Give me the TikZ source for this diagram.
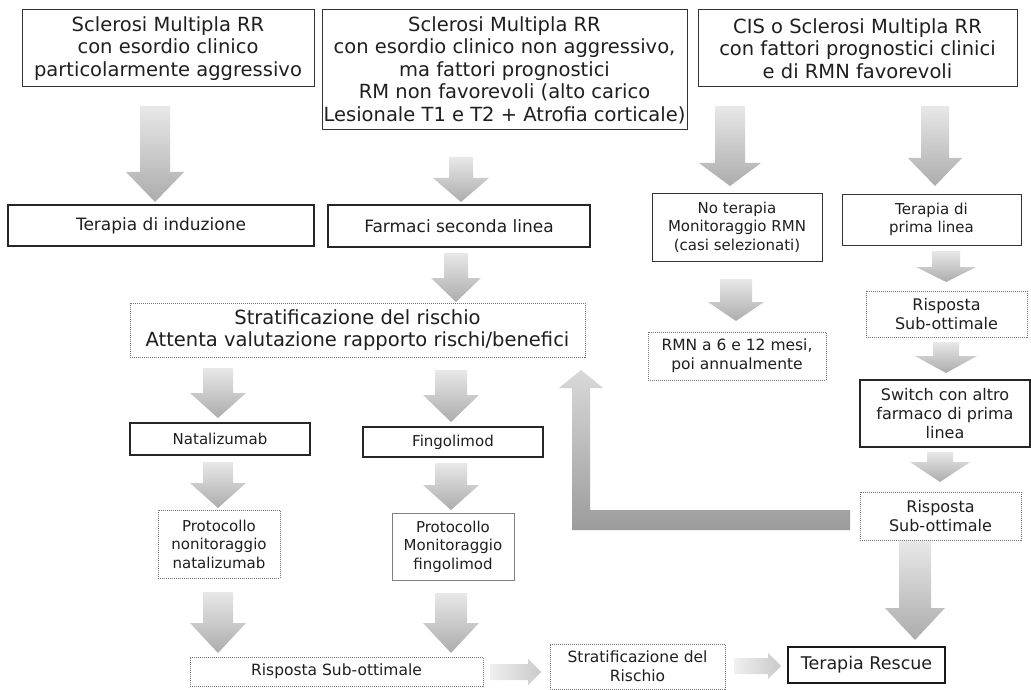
\documentclass[tikz,border=0pt]{standalone}
\usepackage{fontspec}
\setmainfont{DejaVu Sans}
\tikzset{
  bx/.style={rectangle, align=center, inner sep=0pt, text=black!88, font=\fontsize{15}{18.5}\selectfont},
  bigf/.style={font=\fontsize{19.5}{22.5}\selectfont},
  midf/.style={font=\fontsize{17}{20}\selectfont},
  rf/.style={font=\fontsize{16}{19}\selectfont},
  solidb/.style={draw=black!80, line width=1pt},
  thickb/.style={draw=black!85, line width=1.6pt},
  dotb/.style={draw=black!55, line width=0.8pt, dash pattern=on 1pt off 1pt},
  thinb/.style={draw=black!50, line width=0.8pt},
  arrfill/.style={top color=gray!18, bottom color=gray!65, draw=none},
  harrfill/.style={left color=gray!12, right color=gray!42, draw=none},
  larrfill/.style={top color=gray!30, bottom color=gray!78, draw=none},
}
\newcommand\darr[6]{%
  \shade[arrfill] (#1-#5,#2) -- (#1+#5,#2) -- (#1+#5,#3) -- (#1+#6,#3) -- (#1,#4) -- (#1-#6,#3) -- (#1-#5,#3) -- cycle;}
\newcommand\rarr[6]{%
  \shade[harrfill] (#1,#4-#5) -- (#2,#4-#5) -- (#2,#4-#6) -- (#3,#4) -- (#2,#4+#6) -- (#2,#4+#5) -- (#1,#4+#5) -- cycle;}
\begin{document}
\begin{tikzpicture}[x=1pt,y=-1pt]
\useasboundingbox[fill=white] (0,0) rectangle (1031,690);

% top row
\node[bx,bigf,solidb,minimum width=292,minimum height=77] (b1) at (168,48.5)
  {Sclerosi Multipla RR\\con esordio clinico\\particolarmente aggressivo};
\node[bx,bigf,solidb,minimum width=365,minimum height=120] (b2) at (504.5,70)
  {Sclerosi Multipla RR\\con esordio clinico non aggressivo,\\ma fattori prognostici\\RM non favorevoli (alto carico\\Lesionale T1 e T2 + Atrofia corticale)};
\node[bx,bigf,solidb,minimum width=319,minimum height=77] (b3) at (857.5,48.5)
  {CIS o Sclerosi Multipla RR\\con fattori prognostici clinici\\e di RMN favorevoli};

% second row
\node[bx,midf,thickb,minimum width=306,minimum height=41] (ind) at (161,225.5) {Terapia di induzione};
\node[bx,midf,thickb,minimum width=262,minimum height=42] (farm) at (459,226) {Farmaci seconda linea};
\node[bx,solidb,minimum width=170,minimum height=68] (not) at (737,227) {No terapia\\Monitoraggio RMN\\(casi selezionati)};
\node[bx,solidb,minimum width=179,minimum height=51] (prima) at (931.5,219.5) {Terapia di\\prima linea};

% middle
\node[bx,bigf,dotb,minimum width=455,minimum height=54] (strat) at (357.5,330)
  {Stratificazione del rischio\\Attenta valutazione rapporto rischi/benefici};
\node[bx,font=\fontsize{15.5}{19}\selectfont,dotb,minimum width=178,minimum height=48] (rmn) at (737,356) {RMN a 6 e 12 mesi,\\poi annualmente};
\node[bx,rf,dotb,minimum width=161,minimum height=46] (ris1) at (946.5,314) {Risposta\\Sub-ottimale};
\node[bx,rf,thickb,minimum width=170,minimum height=67] (sw) at (945,413.5) {Switch con altro\\farmaco di prima\\linea};
\node[bx,rf,dotb,minimum width=161,minimum height=48] (ris2) at (940.5,516) {Risposta\\Sub-ottimale};

\node[bx,thickb,minimum width=180,minimum height=32] (nat) at (220,439) {Natalizumab};
\node[bx,thickb,minimum width=180,minimum height=30] (fing) at (453,442) {Fingolimod};
\node[bx,dotb,minimum width=122,minimum height=68] (protn) at (219,544) {Protocollo\\nonitoraggio\\natalizumab};
\node[bx,thinb,minimum width=122,minimum height=67] (protf) at (453,546.5) {Protocollo\\Monitoraggio\\fingolimod};

% bottom
\node[bx,font=\fontsize{15.5}{19}\selectfont,dotb,minimum width=293,minimum height=29] (risb) at (336.5,671.5) {Risposta Sub-ottimale};
\node[bx,font=\fontsize{15.5}{19}\selectfont,dotb,minimum width=175,minimum height=45] (stratr) at (637.5,666.5) {Stratificazione del\\Rischio};
\node[bx,font=\fontsize{17.5}{20}\selectfont,draw=black!90,line width=2pt,minimum width=157,minimum height=36] (resc) at (866.5,665) {Terapia Rescue};

% block arrows
\darr{155}{106}{172}{202}{15}{29}
\darr{461}{157}{178}{202}{12}{28}
\darr{730}{106}{163}{186}{15}{31}
\darr{935}{106}{158}{186}{14}{27}
\darr{456}{253}{278}{302}{12}{25}
\darr{218}{368}{393}{418}{15}{28}
\darr{451}{370}{395}{422}{16}{28}
\darr{218}{462}{483}{508}{15}{28}
\darr{451}{463}{485}{510}{16}{28}
\darr{218}{592}{623}{653}{15}{28}
\darr{451}{593}{623}{653}{16}{28}
\darr{736}{279}{302}{321}{16}{28}
\darr{946}{251}{267}{282}{14}{30}
\darr{946}{342}{356}{373}{13}{31}
\darr{940}{452}{462}{482}{13}{30}
\darr{915}{541}{608}{640}{16}{30}
\rarr{490}{528}{541}{672}{8}{13}
\rarr{734}{768}{781}{666}{8}{13}
% L-shaped return arrow
\shade[larrfill] (850,510) -- (590,510) -- (590,388) -- (603,388) -- (581,370) -- (559,388) -- (572,388) -- (572,530) -- (850,530) -- cycle;
\end{tikzpicture}
\end{document}
